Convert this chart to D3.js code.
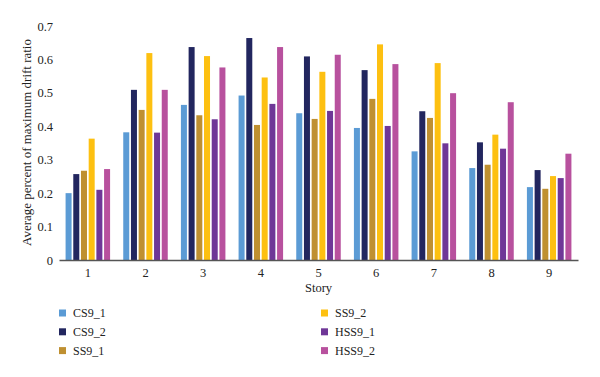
<!DOCTYPE html>
<html>
<head>
<meta charset="utf-8">
<script src="https://cdn.jsdelivr.net/npm/d3@7"></script>
<style>
  body { margin: 0; background: #fff; }
  svg text { font-family: "Liberation Serif", "DejaVu Serif", serif; fill: #222; }
</style>
</head>
<body>
<div id="chart"></div>
<script>
// stories on the x axis
const stories = ["1", "2", "3", "4", "5", "6", "7", "8", "9"];
const seriesNames = ["CS9_1", "CS9_2", "SS9_1", "SS9_2", "HSS9_1", "HSS9_2"];
const seriesColors = ["#5b9bd5", "#22265f", "#bf9031", "#fdc011", "#6f3797", "#b8519e"];

// values per series, one per story
const cs9_1 = [0.200, 0.382, 0.464, 0.492, 0.439, 0.395, 0.325, 0.275, 0.218];
const cs9_2 = [0.257, 0.509, 0.637, 0.664, 0.609, 0.568, 0.445, 0.352, 0.269];
const ss9_1 = [0.267, 0.449, 0.433, 0.404, 0.422, 0.482, 0.425, 0.285, 0.213];
const ss9_2 = [0.363, 0.619, 0.610, 0.546, 0.563, 0.645, 0.589, 0.375, 0.251];
const hss9_1 = [0.210, 0.381, 0.421, 0.467, 0.446, 0.401, 0.349, 0.333, 0.245];
const hss9_2 = [0.272, 0.509, 0.576, 0.637, 0.614, 0.586, 0.499, 0.472, 0.318];
const yTicks = [0, 0.1, 0.2, 0.3, 0.4, 0.5, 0.6, 0.7];

const allSeries = [cs9_1, cs9_2, ss9_1, ss9_2, hss9_1, hss9_2];

const width = 600, height = 377;
const margin = { top: 26, right: 22, bottom: 117, left: 59 };

const svg = d3.select("#chart")
    .append("svg")
    .attr("width", width)
    .attr("height", height);

const x0 = d3.scaleBand()
    .domain(stories)
    .range([margin.left, width - margin.right])
    .padding(0);

// 6 bars per story, centred in each band
const groupW = 44.5;
const off = (x0.bandwidth() - groupW) / 2;
const x1 = d3.scaleBand()
    .domain(seriesNames)
    .range([off, off + groupW])
    .paddingInner(0.22)
    .paddingOuter(0);

const y = d3.scaleLinear()
    .domain([0, 0.7])
    .range([height - margin.bottom, margin.top]);

const color = d3.scaleOrdinal().domain(seriesNames).range(seriesColors);

// bars
const rows = stories.map((s, i) => ({
    story: s,
    vals: seriesNames.map((k, j) => ({ key: k, value: allSeries[j][i] }))
}));

svg.append("g")
    .selectAll("g")
    .data(rows)
    .join("g")
    .attr("transform", d => "translate(" + x0(d.story) + ",0)")
    .selectAll("rect")
    .data(d => d.vals)
    .join("rect")
    .attr("x", d => x1(d.key))
    .attr("y", d => y(d.value))
    .attr("width", x1.bandwidth())
    .attr("height", d => y(0) - y(d.value))
    .attr("fill", d => color(d.key));

// y axis (labels only)
const yAxis = svg.append("g")
    .attr("transform", "translate(" + margin.left + ",0)")
    .call(d3.axisLeft(y).tickValues(yTicks).tickSize(0).tickPadding(6)
        .tickFormat(d => d === 0 ? "0" : d3.format(".1f")(d)));
yAxis.select(".domain").remove();
yAxis.selectAll("text").style("font-size", "12.5px").style("font-family", null);

// x axis
const xAxis = svg.append("g")
    .attr("transform", "translate(0," + y(0) + ")")
    .call(d3.axisBottom(x0).tickSize(0).tickPadding(8).tickSizeOuter(0));
xAxis.select(".domain").attr("stroke", "#555").attr("stroke-width", 1.5);
xAxis.selectAll("text").style("font-size", "12.5px").style("font-family", null);

// axis titles
const yTitle = svg.append("text")
    .attr("transform", "translate(31,142.5) rotate(-90)")
    .attr("text-anchor", "middle")
    .style("font-size", "13px")
    .text("Average percent of maximum drift ratio");

// the original title is about 207px long; shrink the font if ours runs longer
const len = yTitle.node().getComputedTextLength();
if (len > 0) {
    yTitle.style("font-size", Math.min(13, 13 * 207 / len).toFixed(2) + "px");
}

svg.append("text")
    .attr("x", (x0.range()[0] + x0.range()[1]) / 2)
    .attr("y", 292)
    .attr("text-anchor", "middle")
    .style("font-size", "12.5px")
    .text("Story");

// legend, two columns of three
const legend = svg.append("g")
    .selectAll("g")
    .data(seriesNames)
    .join("g")
    .attr("transform", (d, i) => "translate(" + (i < 3 ? 59 : 321) + "," + (313 + (i % 3) * 18.8) + ")");

legend.append("rect")
    .attr("x", 0)
    .attr("y", -3.5)
    .attr("width", 7)
    .attr("height", 7)
    .attr("fill", d => color(d));

legend.append("text")
    .attr("x", 14)
    .attr("y", 0)
    .attr("dy", "0.35em")
    .style("font-size", "12px")
    .text(d => d);
</script>
</body>
</html>
